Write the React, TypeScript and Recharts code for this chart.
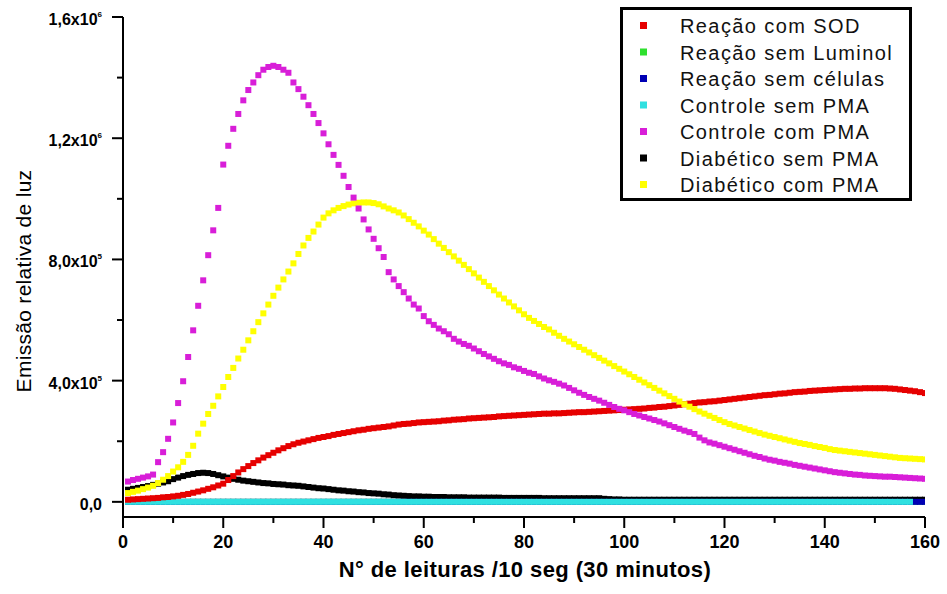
// Chemiluminescence kinetics — Recharts ScatterChart with square markers, one per reading.
import { Legend, Scatter, ScatterChart, XAxis, YAxis } from 'recharts';

const FONT = '"Liberation Sans", Arial, sans-serif';

// series names, in legend order
const seriesNames = [
  'Reação com SOD',
  'Reação sem Luminol',
  'Reação sem células',
  'Controle sem PMA',
  'Controle com PMA',
  'Diabético sem PMA',
  'Diabético com PMA',
];
const seriesColors = ['#e60000', '#2ee02e', '#0000b4', '#30e0e0', '#d81ed8', '#000000', '#ffff00'];

// readings 1..160, values in thousands (relative light emission)
const sodValues = [
  7, 8, 9, 10, 11, 12, 13, 15, 16, 18, 20, 23, 26, 30, 34, 38, 43, 48, 54, 60,
  72, 85, 97, 108, 118, 128, 137, 146, 154, 162, 170, 177, 184, 190, 195, 199, 203, 207, 211, 214,
  217, 221, 224, 227, 230, 233, 236, 238, 241, 243, 245, 247, 249, 252, 255, 257, 258, 260, 262, 263,
  264, 265, 266, 268, 269, 271, 272, 273, 275, 276, 277, 278, 279, 280, 282, 283, 284, 285, 286, 287,
  288, 289, 290, 291, 291, 292, 292, 293, 294, 295, 296, 296, 297, 298, 299, 300, 301, 302, 303, 304,
  305, 306, 307, 308, 310, 311, 313, 314, 316, 318, 320, 322, 324, 326, 328, 329, 331, 332, 334, 336,
  338, 340, 342, 344, 346, 348, 350, 352, 353, 355, 357, 358, 360, 362, 363, 364, 366, 367, 368, 369,
  370, 371, 372, 373, 373, 374, 374, 375, 375, 375, 375, 375, 374, 373, 371, 369, 367, 365, 362, 359,
];
const semLuminolValues = [
  0, 0, 0, 0, 0, 0, 0, 0, 0, 0, 0, 0, 0, 0, 0, 0, 0, 0, 0, 0,
  0, 0, 0, 0, 0, 0, 0, 0, 0, 0, 0, 0, 0, 0, 0, 0, 0, 0, 0, 0,
  0, 0, 0, 0, 0, 0, 0, 0, 0, 0, 0, 0, 0, 0, 0, 0, 0, 0, 0, 0,
  0, 0, 0, 0, 0, 0, 0, 0, 0, 0, 0, 0, 0, 0, 0, 0, 0, 0, 0, 0,
  0, 0, 0, 0, 0, 0, 0, 0, 0, 0, 0, 0, 0, 0, 0, 0, 0, 0, 0, 0,
  0, 0, 0, 0, 0, 0, 0, 0, 0, 0, 0, 0, 0, 0, 0, 0, 0, 0, 0, 0,
  0, 0, 0, 0, 0, 0, 0, 0, 0, 0, 0, 0, 0, 0, 0, 0, 0, 0, 0, 0,
  0, 0, 0, 0, 0, 0, 0, 0, 0, 0, 0, 0, 0, 0, 0, 0, 0, 0, 0, 0,
];
const semCelulasValues = [
  0, 0, 0, 0, 0, 0, 0, 0, 0, 0, 0, 0, 0, 0, 0, 0, 0, 0, 0, 0,
  0, 0, 0, 0, 0, 0, 0, 0, 0, 0, 0, 0, 0, 0, 0, 0, 0, 0, 0, 0,
  0, 0, 0, 0, 0, 0, 0, 0, 0, 0, 0, 0, 0, 0, 0, 0, 0, 0, 0, 0,
  0, 0, 0, 0, 0, 0, 0, 0, 0, 0, 0, 0, 0, 0, 0, 0, 0, 0, 0, 0,
  0, 0, 0, 0, 0, 0, 0, 0, 0, 0, 0, 0, 0, 0, 0, 0, 0, 0, 0, 0,
  0, 0, 0, 0, 0, 0, 0, 0, 0, 0, 0, 0, 0, 0, 0, 0, 0, 0, 0, 0,
  0, 0, 0, 0, 0, 0, 0, 0, 0, 0, 0, 0, 0, 0, 0, 0, 0, 0, 0, 0,
  0, 0, 0, 0, 0, 0, 0, 0, 0, 0, 0, 0, 0, 0, 0, 0, 0, 0, 0, 0,
];
// cyan run stops at reading 157
const controleSemValues = [
  0, 0, 0, 0, 0, 0, 0, 0, 0, 0, 0, 0, 0, 0, 0, 0, 0, 0, 0, 0,
  0, 0, 0, 0, 0, 0, 0, 0, 0, 0, 0, 0, 0, 0, 0, 0, 0, 0, 0, 0,
  0, 0, 0, 0, 0, 0, 0, 0, 0, 0, 0, 0, 0, 0, 0, 0, 0, 0, 0, 0,
  0, 0, 0, 0, 0, 0, 0, 0, 0, 0, 0, 0, 0, 0, 0, 0, 0, 0, 0, 0,
  0, 0, 0, 0, 0, 0, 0, 0, 0, 0, 0, 0, 0, 0, 0, 0, 0, 0, 0, 0,
  0, 0, 0, 0, 0, 0, 0, 0, 0, 0, 0, 0, 0, 0, 0, 0, 0, 0, 0, 0,
  0, 0, 0, 0, 0, 0, 0, 0, 0, 0, 0, 0, 0, 0, 0, 0, 0, 0, 0, 0,
  0, 0, 0, 0, 0, 0, 0, 0, 0, 0, 0, 0, 0, 0, 0, 0, 0,
];
const controleComValues = [
  67, 72, 76, 80, 84, 90, 131, 164, 208, 262, 326, 398, 478, 566, 647, 731, 814, 896, 970, 1113,
  1175, 1231, 1280, 1325, 1359, 1384, 1408, 1426, 1435, 1439, 1435, 1426, 1416, 1384, 1362, 1337, 1309, 1280, 1250, 1216,
  1180, 1145, 1112, 1076, 1039, 1004, 968, 932, 899, 868, 837, 808, 758, 734, 712, 692, 671, 651, 638, 613,
  596, 584, 572, 563, 553, 538, 529, 521, 515, 506, 497, 488, 480, 472, 464, 457, 452, 444, 439, 432,
  426, 422, 414, 407, 401, 396, 390, 384, 376, 368, 360, 353, 346, 340, 334, 327, 320, 313, 307, 302,
  296, 290, 285, 280, 275, 270, 265, 259, 253, 247, 241, 235, 230, 224, 212, 203, 196, 192, 187, 182,
  177, 172, 167, 162, 157, 152, 148, 143, 139, 136, 132, 129, 126, 122, 119, 116, 113, 110, 107, 104,
  101, 98, 96, 94, 92, 90, 89, 87, 86, 85, 84, 83, 83, 82, 81, 80, 79, 78, 77, 76,
];
const diabeticoSemValues = [
  40, 43, 46, 49, 52, 56, 60, 64, 68, 75, 80, 85, 89, 92, 95, 96, 95, 92, 88, 84,
  80, 76, 73, 70, 68, 66, 64, 62, 61, 59, 58, 57, 55, 54, 53, 51, 49, 47, 45, 44,
  42, 40, 38, 37, 35, 34, 32, 31, 29, 28, 27, 25, 24, 22, 21, 20, 19, 18, 18, 17,
  17, 16, 16, 16, 15, 15, 15, 15, 14, 14, 14, 14, 14, 14, 14, 13, 13, 13, 13, 13,
  13, 13, 13, 12, 12, 12, 12, 12, 12, 12, 12, 12, 12, 12, 12, 10, 9, 8, 8, 7,
  7, 7, 7, 7, 7, 7, 7, 7, 7, 7, 7, 7, 7, 7, 7, 7, 7, 7, 7, 7,
  7, 7, 7, 7, 7, 7, 7, 7, 7, 7, 7, 7, 7, 7, 7, 7, 7, 7, 7, 7,
  7, 7, 7, 7, 7, 7, 7, 7, 7, 7, 7, 7, 7, 7, 7, 7, 7, 7, 7, 7,
];
const diabeticoComValues = [
  29, 33, 37, 42, 47, 53, 62, 73, 85, 100, 114, 132, 155, 185, 225, 258, 290, 317, 348, 379,
  412, 442, 473, 502, 533, 563, 593, 622, 651, 680, 707, 734, 760, 787, 818, 846, 871, 892, 915, 938,
  952, 962, 970, 976, 981, 985, 987, 988, 988, 986, 982, 975, 968, 962, 955, 945, 933, 921, 909, 895,
  882, 867, 852, 838, 824, 810, 796, 782, 768, 754, 740, 726, 712, 698, 684, 671, 658, 645, 632, 619,
  607, 597, 587, 577, 569, 558, 548, 538, 529, 520, 511, 502, 493, 484, 475, 466, 457, 448, 439, 430,
  421, 412, 403, 394, 385, 376, 367, 358, 349, 340, 331, 322, 314, 306, 298, 291, 284, 277, 270, 263,
  257, 252, 247, 242, 237, 232, 227, 222, 218, 214, 210, 206, 202, 198, 194, 191, 188, 184, 181, 178,
  174, 171, 169, 167, 165, 163, 161, 159, 157, 155, 153, 151, 149, 147, 145, 144, 143, 142, 141, 140,
];

const xTicks = [0, 10, 20, 30, 40, 50, 60, 70, 80, 90, 100, 110, 120, 130, 140, 150, 160];
const xTickLabels = ['0', '20', '40', '60', '80', '100', '120', '140', '160'];
const yTicks = [0, 200000, 400000, 600000, 800000, 1000000, 1200000, 1400000, 1600000];
const yTickMantissa = ['0,0', '4,0x10', '8,0x10', '1,2x10', '1,6x10'];
const yTickExponent = ['', '5', '5', '6', '6'];

const toPoints = (vals: number[]) => vals.map((v, i) => ({ x: i + 1, y: v * 1000 }));

const square = (color: string, s: number) => (props: any) => (
  <rect x={props.cx - s / 2} y={props.cy - s / 2} width={s} height={s} fill={color} />
);

function XTick({ x, y, payload }: any) {
  const v = payload.value as number;
  const major = v % 20 === 0;
  return (
    <g>
      <line x1={x} x2={x} y1={y} y2={y + (major ? 11 : 6)} stroke="#000" strokeWidth={2} />
      {major && (
        <text x={x} y={y + 31} textAnchor="middle" fontFamily={FONT} fontWeight="bold" fontSize={18} fill="#000">
          {xTickLabels[v / 20]}
        </text>
      )}
    </g>
  );
}

function YTick({ x, y, payload }: any) {
  const v = payload.value as number;
  const major = v % 400000 === 0;
  const idx = v / 400000;
  return (
    <g>
      <line x1={x - (major ? 11 : 6)} x2={x} y1={y} y2={y} stroke="#000" strokeWidth={2} />
      {major && (
        <text x={x - 21} y={y + 8} textAnchor="end" fontFamily={FONT} fontWeight="bold" fontSize={16} fill="#000">
          {yTickMantissa[idx]}
          {yTickExponent[idx] && (
            <tspan dy={-8} fontSize={8}>
              {yTickExponent[idx]}
            </tspan>
          )}
        </text>
      )}
    </g>
  );
}

function LegendBox() {
  return (
    <svg width={292} height={194} style={{ display: 'block' }}>
      <rect x={1.5} y={1.5} width={289} height={191} fill="#fff" stroke="#000" strokeWidth={3} />
      {seriesNames.map((name, i) => (
        <g key={name}>
          <rect x={20} y={15 + i * 26.5} width={7} height={7} fill={seriesColors[i]} />
          <text x={60} y={26 + i * 26.5} fontFamily={FONT} fontSize={20} letterSpacing={1.4} fill="#111">
            {name}
          </text>
        </g>
      ))}
    </svg>
  );
}

// draw order: zero-level runs first, black under blue/cyan, magenta on top
const drawOrder = [1, 5, 2, 3, 0, 6, 4];
const allValues = [
  sodValues,
  semLuminolValues,
  semCelulasValues,
  controleSemValues,
  controleComValues,
  diabeticoSemValues,
  diabeticoComValues,
];

export default function App() {
  return (
    <div style={{ position: 'fixed', left: 0, top: 0, width: 947, height: 594, background: '#fff' }}>
      <ScatterChart width={947} height={594} margin={{ top: 17, right: 22, bottom: 17, left: 23 }}>
        <XAxis
          type="number"
          dataKey="x"
          domain={[0, 160]}
          ticks={xTicks}
          interval={0}
          height={60}
          tickSize={0}
          tickMargin={0}
          tick={<XTick />}
          axisLine={{ stroke: '#000', strokeWidth: 2 }}
          allowDataOverflow
          label={() => (
            <text
              x={525}
              y={577}
              textAnchor="middle"
              fontFamily={FONT}
              fontWeight="bold"
              fontSize={22}
              letterSpacing={0.4}
              fill="#000"
            >
              N° de leituras /10 seg (30 minutos)
            </text>
          )}
        />
        <YAxis
          type="number"
          dataKey="y"
          domain={[-50000, 1600000]}
          ticks={yTicks}
          interval={0}
          width={100}
          tickSize={0}
          tickMargin={0}
          tick={<YTick />}
          axisLine={{ stroke: '#000', strokeWidth: 2 }}
          allowDataOverflow
          label={() => (
            <text
              x={31}
              y={281}
              transform="rotate(-90, 31, 281)"
              textAnchor="middle"
              fontFamily={FONT}
              fontSize={21}
              letterSpacing={0.3}
              fill="#000"
            >
              Emissão relativa de luz
            </text>
          )}
        />
        <Legend
          layout="vertical"
          align="center"
          verticalAlign="middle"
          wrapperStyle={{ position: 'absolute', left: 620, top: 7, width: 292, height: 194 }}
          content={() => <LegendBox />}
        />
        {drawOrder.map((i) => (
          <Scatter
            key={seriesNames[i]}
            name={seriesNames[i]}
            data={toPoints(allValues[i])}
            fill={seriesColors[i]}
            shape={square(seriesColors[i], 6)}
            isAnimationActive={false}
          />
        ))}
      </ScatterChart>
    </div>
  );
}
